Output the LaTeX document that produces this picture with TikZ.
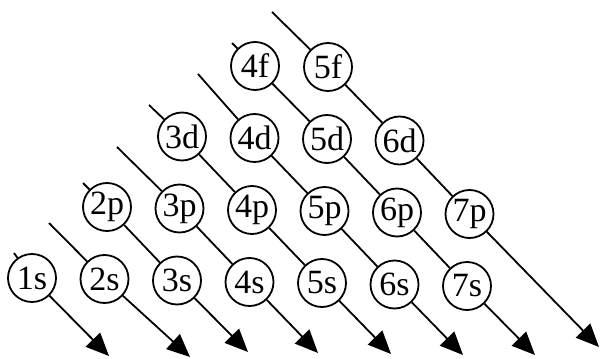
\documentclass[tikz,border=0pt]{standalone}
\usepackage{fontspec}
\setmainfont{Liberation Serif}
\usetikzlibrary{arrows.meta}

\begin{document}
\begin{tikzpicture}[
  x = 1pt, y = -1pt,
  orb/.style = {draw, circle, minimum size = 48pt, inner sep = 0pt,
                line width = 1.8pt, font = \fontsize{34}{34}\selectfont},
  diag/.style = {line width = 1.8pt, -{Triangle[length = 23pt, width = 20pt]}}
  ]
  \useasboundingbox (0,0) rectangle (601,358);

  % s row
  \node[orb] (s1) at (32,278)    {1s};
  \node[orb] (s2) at (104.5,279) {2s};
  \node[orb] (s3) at (177,280.5) {3s};
  \node[orb] (s4) at (249.5,282) {4s};
  \node[orb] (s5) at (322,283)   {5s};
  \node[orb] (s6) at (394.5,284.5) {6s};
  \node[orb] (s7) at (467,286)   {7s};
  % p row
  \node[orb] (p2) at (107,207)   {2p};
  \node[orb] (p3) at (179.5,208.5) {3p};
  \node[orb] (p4) at (252,210)   {4p};
  \node[orb] (p5) at (324.5,211) {5p};
  \node[orb] (p6) at (397,212.5) {6p};
  \node[orb] (p7) at (469.5,214) {7p};
  % d row
  \node[orb] (d3) at (182,136.5) {3d};
  \node[orb] (d4) at (254.5,138) {4d};
  \node[orb] (d5) at (327,139)   {5d};
  \node[orb] (d6) at (399.5,140.5) {6d};
  % f row
  \node[orb] (f4) at (255,66)    {4f};
  \node[orb] (f5) at (328,67)    {5f};

  % free ends
  \coordinate (t1) at (14,253);
  \coordinate (t2) at (49,223);
  \coordinate (t3) at (83,183);
  \coordinate (t4) at (117,147);
  \coordinate (t5) at (149,105);
  \coordinate (t6) at (198,74);
  \coordinate (t7) at (232,43);
  \coordinate (t8) at (272,12);
  \coordinate (e1) at (109,356);
  \coordinate (e2) at (190,357);
  \coordinate (e3) at (248,352);
  \coordinate (e4) at (318,353);
  \coordinate (e5) at (391,354);
  \coordinate (e6) at (463,355);
  \coordinate (e7) at (535,355);
  \coordinate (e8) at (599,347);

  \draw[diag] (t1) -- (s1) -- (e1);
  \draw[diag] (t2) -- (s2) -- (e2);
  \draw[diag] (t3) -- (p2) -- (s3) -- (e3);
  \draw[diag] (t4) -- (p3) -- (s4) -- (e4);
  \draw[diag] (t5) -- (d3) -- (p4) -- (s5) -- (e5);
  \draw[diag] (t6) -- (d4) -- (p5) -- (s6) -- (e6);
  \draw[diag] (t7) -- (f4) -- (d5) -- (p6) -- (s7) -- (e7);
  \draw[diag] (t8) -- (f5) -- (d6) -- (p7) -- (e8);
\end{tikzpicture}
\end{document}
